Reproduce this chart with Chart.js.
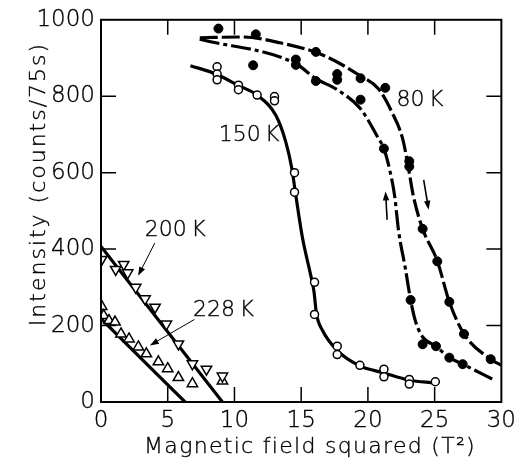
<!DOCTYPE html>
<html><head><meta charset="utf-8">
<script src="https://cdn.jsdelivr.net/npm/chart.js@4.4.1/dist/chart.umd.min.js"></script>
<style>html,body{margin:0;padding:0;background:#fff;}canvas{display:block}</style>
</head><body>
<canvas id="c" width="521" height="462"></canvas>
<script>
// ---- tick values ----
const xTickValues = [0, 5, 10, 15, 20, 25, 30];
const yTickValues = [0, 200, 400, 600, 800, 1000];

// ---- measured points ----
// 150 K (open circles)
const open150X = [8.7, 8.7, 8.7, 10.3, 10.3, 11.7, 13.0, 13.0, 14.5, 14.5, 16.0, 16.0, 17.7, 17.7, 19.4, 21.2, 21.2, 23.1, 23.1, 25.05];
const open150Y = [877, 858, 843, 829, 817, 803, 799, 788, 600, 549, 313, 229, 146, 124, 96, 86, 66, 59, 47, 53];
// 80 K (filled circles)
const filled80X = [8.8, 11.6, 11.4, 14.6, 14.6, 16.1, 16.1, 17.7, 17.7, 19.45, 19.45, 21.3, 21.2, 23.1, 23.1, 24.1, 25.2, 26.1, 27.2, 29.2, 23.2, 24.1, 25.1, 26.1, 27.1];
const filled80Y = [977, 962, 881, 896, 882, 916, 840, 858, 843, 847, 791, 822, 663, 630, 616, 453, 368, 262, 178, 112, 267, 151, 146, 116, 99];
// 200 K (down triangles)
const tri200X = [0.05, 1.1, 1.7, 2.0, 2.6, 3.3, 4.05, 4.9, 5.8, 6.85, 7.9, 9.1];
const tri200Y = [373, 347, 360, 338, 300, 270, 248, 204, 152, 100, 86, 68];
// 228 K (up triangles)
const tri228X = [0.05, 0.2, 0.6, 1.05, 1.5, 2.1, 2.8, 3.4, 4.3, 5.0, 5.8, 6.85, 9.1];
const tri228Y = [250, 226, 213, 209, 178, 165, 144, 126, 105, 87, 64, 48, 55];

// ---- drawn guide curves ----
const curve150X = [6.7, 8.7, 10.3, 11.7, 13.1, 13.85, 14.3, 14.6, 15.1, 15.7, 15.95, 16.15, 16.6, 17.7, 19.3, 21.2, 23.1, 25.0];
const curve150Y = [880, 857, 828, 803, 750, 680, 611, 540, 429, 334, 291, 230, 187, 135, 96, 76, 57, 50];
const curve80upX = [7.4, 10.6, 13.4, 16.6, 19.45, 20.8, 21.8, 22.6, 23.0, 23.4, 24.1, 25.2, 26.1, 27.2, 29.2, 30.0];
const curve80upY = [953, 955, 940, 908, 853, 819, 758, 689, 620, 540, 453, 369, 262, 178, 112, 96];
const curve80downX = [7.4, 14.6, 16.1, 17.7, 19.45, 20.8, 21.2, 21.66, 22.0, 22.3, 22.8, 23.2, 23.55, 24.1, 25.1, 26.1, 27.1, 29.5];
const curve80downY = [949, 885, 846, 817, 767, 689, 663, 603, 540, 447, 351, 267, 213, 170, 146, 116, 99, 57];
const line200X = [0, 9.1];
const line200Y = [407, 0];
const line228X = [0, 6.3];
const line228Y = [218, 0];

// ---- annotations (data coordinates) ----
const labelTexts = ['150\u2009K', '80\u2009K', '200\u2009K', '228\u2009K'];
const labelX = [11.1, 23.9, 5.56, 9.18];
const labelY = [697, 790, 448, 239];
// arrows: tail -> head
const arrowTailX = [4.03, 7.0, 21.44, 24.18];
const arrowTailY = [416, 216, 477, 581];
const arrowHeadX = [2.78, 3.66, 21.32, 24.55];
const arrowHeadY = [330, 148, 551, 503];
const arrowWidth = [1, 1, 1.6, 1.6];

const xTitle = 'Magnetic field squared (T²)';
const yTitle = 'Intensity (counts/75s)';

const FONT_FAMILY = "'DejaVu Sans', sans-serif";
const FONT_WEIGHT = '200';
const TEXT_STROKE = 0.35;
const pts = (xs, ys) => xs.map((x, i) => ({x: x, y: ys[i]}));

function lineDs(xs, ys, dash) {
  return {data: pts(xs, ys), showLine: true, pointRadius: 0, borderColor: '#000', borderWidth: 3.2,
    borderDash: dash, cubicInterpolationMode: 'monotone', fill: false, order: 2, borderCapStyle: 'butt'};
}

function drawText(ctx, t, x, y) {
  ctx.fillText(t, x, y);
  ctx.strokeText(t, x, y);
}

const framePlugin = {
  id: 'frame',
  afterDatasetsDraw(chart) {
    const ctx = chart.ctx, a = chart.chartArea;
    const xs = chart.scales.x, ys = chart.scales.y;
    ctx.save();
    ctx.strokeStyle = '#000';
    ctx.lineWidth = 2;
    ctx.strokeRect(a.left, a.top, a.right - a.left, a.bottom - a.top);
    ctx.lineWidth = 1.5;
    const L = 15;
    ctx.beginPath();
    xTickValues.forEach(v => {
      if (v === xs.min || v === xs.max) return;
      const p = xs.getPixelForValue(v);
      ctx.moveTo(p, a.bottom); ctx.lineTo(p, a.bottom - L);
      ctx.moveTo(p, a.top); ctx.lineTo(p, a.top + L);
    });
    yTickValues.forEach(v => {
      if (v === ys.min || v === ys.max) return;
      const p = ys.getPixelForValue(v);
      ctx.moveTo(a.left, p); ctx.lineTo(a.left + L, p);
      ctx.moveTo(a.right, p); ctx.lineTo(a.right - L, p);
    });
    ctx.stroke();

    // arrows
    ctx.fillStyle = '#000';
    arrowTailX.forEach((tx, i) => {
      const x1 = xs.getPixelForValue(tx), y1 = ys.getPixelForValue(arrowTailY[i]);
      const x2 = xs.getPixelForValue(arrowHeadX[i]), y2 = ys.getPixelForValue(arrowHeadY[i]);
      const ang = Math.atan2(y2 - y1, x2 - x1);
      const hl = 9, hw = 3.2;
      ctx.lineWidth = arrowWidth[i];
      ctx.beginPath();
      ctx.moveTo(x1, y1);
      ctx.lineTo(x2 - hl * 0.8 * Math.cos(ang), y2 - hl * 0.8 * Math.sin(ang));
      ctx.stroke();
      ctx.beginPath();
      ctx.moveTo(x2, y2);
      ctx.lineTo(x2 - hl * Math.cos(ang) + hw * Math.sin(ang), y2 - hl * Math.sin(ang) - hw * Math.cos(ang));
      ctx.lineTo(x2 - hl * Math.cos(ang) - hw * Math.sin(ang), y2 - hl * Math.sin(ang) + hw * Math.cos(ang));
      ctx.closePath();
      ctx.fill();
    });

    // labels
    ctx.font = FONT_WEIGHT + ' 22px ' + FONT_FAMILY;
    ctx.lineWidth = TEXT_STROKE;
    ctx.textAlign = 'center';
    ctx.textBaseline = 'middle';
    labelTexts.forEach((t, i) => {
      drawText(ctx, t, xs.getPixelForValue(labelX[i]), ys.getPixelForValue(labelY[i]));
    });

    // axis titles
    ctx.textBaseline = 'alphabetic';
    ctx.letterSpacing = '1.3px';
    drawText(ctx, xTitle, 310, 453);
    ctx.save();
    ctx.letterSpacing = '2px';
    ctx.translate(45, 184);
    ctx.rotate(-Math.PI / 2);
    drawText(ctx, yTitle, 0, 0);
    ctx.restore();
    ctx.restore();
  }
};

const tickFont = {family: FONT_FAMILY, size: 23, weight: FONT_WEIGHT};

new Chart(document.getElementById('c'), {
  type: 'scatter',
  data: {
    datasets: [
      {data: pts(filled80X, filled80Y), pointStyle: 'circle', pointRadius: 4.5, backgroundColor: '#000', borderColor: '#000', borderWidth: 1, order: 0},
      {data: pts(open150X, open150Y), pointStyle: 'circle', pointRadius: 4, backgroundColor: '#fff', borderColor: '#000', borderWidth: 1.5, order: 0},
      {data: pts(tri200X, tri200Y), pointStyle: 'triangle', rotation: 180, pointRadius: 6, backgroundColor: '#fff', borderColor: '#000', borderWidth: 1.5, order: 0},
      {data: pts(tri228X, tri228Y), pointStyle: 'triangle', pointRadius: 6, backgroundColor: '#fff', borderColor: '#000', borderWidth: 1.5, order: 0},
      lineDs(curve150X, curve150Y, []),
      lineDs(curve80upX, curve80upY, [18, 4]),
      lineDs(curve80downX, curve80downY, [20, 4, 4, 4]),
      lineDs(line200X, line200Y, []),
      lineDs(line228X, line228Y, [])
    ]
  },
  options: {
    responsive: false,
    animation: false,
    devicePixelRatio: 1,
    layout: {padding: {top: 17, right: 18, left: 0, bottom: 0}},
    plugins: {legend: {display: false}, tooltip: {enabled: false}},
    scales: {
      x: {
        type: 'linear', min: 0, max: 30,
        afterBuildTicks: s => { s.ticks = xTickValues.map(v => ({value: v})); },
        ticks: {color: '#000', font: tickFont, padding: 5, maxRotation: 0,
          textStrokeColor: '#000', textStrokeWidth: TEXT_STROKE, callback: v => String(v)},
        grid: {display: false, drawTicks: false}, border: {display: false},
        afterFit: s => { s.height = 60; }
      },
      y: {
        type: 'linear', min: 0, max: 1000,
        afterBuildTicks: s => { s.ticks = yTickValues.map(v => ({value: v})); },
        ticks: {color: '#000', font: tickFont, padding: 6,
          textStrokeColor: '#000', textStrokeWidth: TEXT_STROKE, callback: v => String(v)},
        grid: {display: false, drawTicks: false}, border: {display: false},
        afterFit: s => { s.width = 101; }
      }
    }
  },
  plugins: [framePlugin]
});
</script>
</body></html>
